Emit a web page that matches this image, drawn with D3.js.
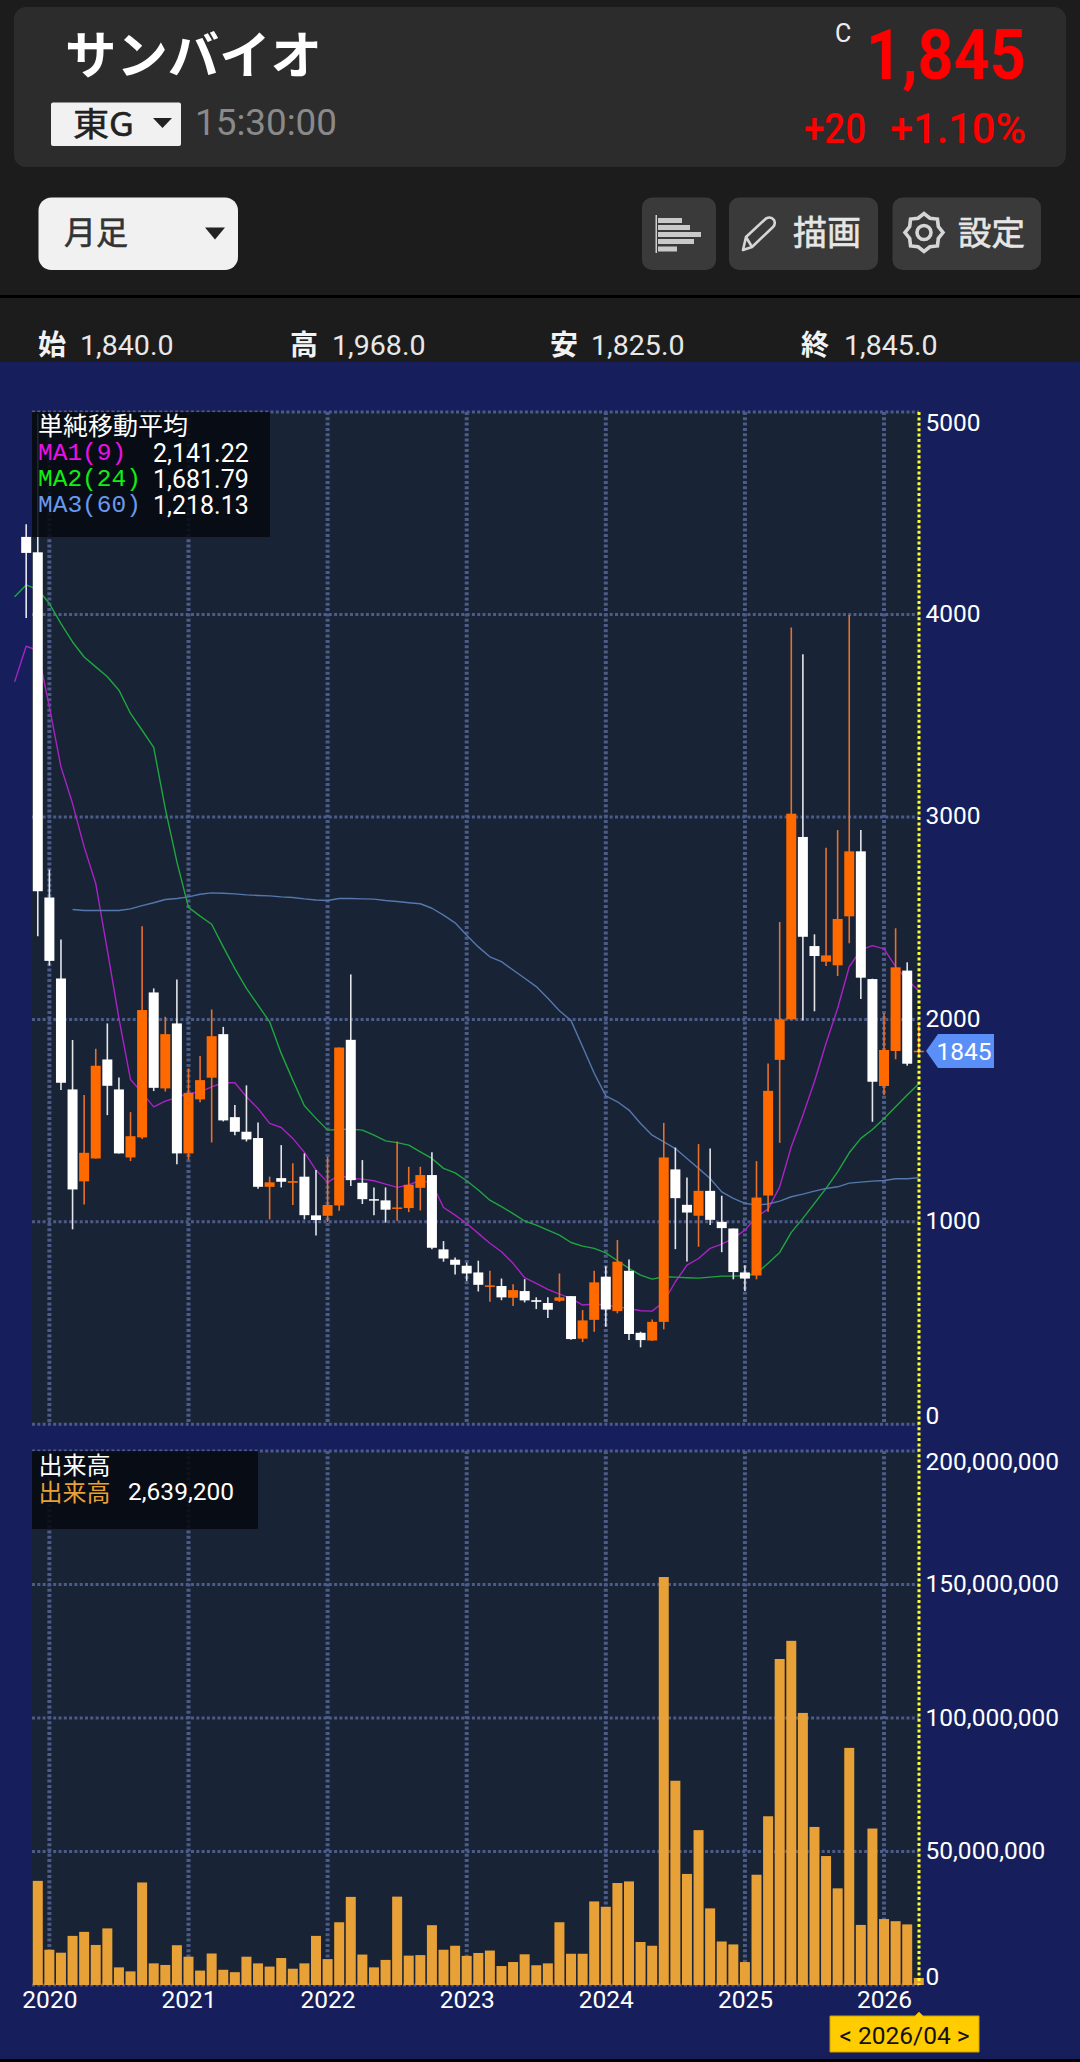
<!DOCTYPE html>
<html><head><meta charset="utf-8">
<script src="https://cdn.jsdelivr.net/npm/d3@7"></script>
<style>html,body{margin:0;padding:0;background:#1c1c1c;overflow:hidden}svg{display:block}
text{font-family:Roboto,"Noto Sans CJK JP",sans-serif}
.jp{font-family:"Noto Sans CJK JP",sans-serif}
.mono{font-family:"Liberation Mono",monospace}</style></head><body><svg id="c" width="1080" height="2062"></svg>
<script>
const stockName="サンバイオ", market="東G", clock="15:30:00", lastPrice="1,845", change="+20", changePct="+1.10%";
const ohlcLabels=["始","高","安","終"], ohlcValues=["1,840.0","1,968.0","1,825.0","1,845.0"];
const yearTicks=["2020","2021","2022","2023","2024","2025","2026"];
const priceTicks=[0,1000,2000,3000,4000,5000];
const volumeTicks=[0,50000000,100000000,150000000,200000000];
const openPrices=[4383,4307,2602,2202,1654,1200,1313,1802,1654,1318,1417,2133,1659,1980,1338,1605,1712,1927,1517,1445,1414,1173,1216,1193,1223,1032,1030,1081,1899,1193,1112,1106,1066,1068,1168,1231,864,813,783,750,681,683,625,658,613,599,610,633,423,516,729,559,758,452,414,506,1259,1084,1030,1153,1000,967,750,735,1130,1800,2000,2901,2362,2285,2267,2509,2830,2199,1671,1844,2241,1840];
const closePrices=[4304,2633,2289,1687,1160,1341,1771,1672,1338,1423,2046,1662,1927,1338,1637,1700,1917,1501,1445,1407,1173,1195,1198,1201,1033,1009,1083,1861,1206,1112,1107,1060,1071,1183,1231,872,819,788,745,689,686,627,663,612,605,566,627,421,513,701,567,803,446,416,506,1318,1117,1046,1153,1010,969,752,720,1120,1647,2000,3016,2408,2313,2316,2496,2830,2206,1692,1849,2257,1781,1845];
const highPrices=[4446,4990,2740,2395,1898,1626,1855,1980,1713,1542,2460,2153,2013,2197,1758,1819,2049,1963,1577,1674,1491,1223,1379,1289,1338,1256,1321,1861,2222,1305,1170,1170,1397,1272,1272,1344,905,824,798,808,758,720,692,717,627,627,745,633,564,758,781,910,814,457,518,1489,1367,1219,1384,1362,1129,967,786,1300,1782,2481,3936,3804,2420,2848,2935,3997,2935,2201,2030,2450,2282,1968];
const lowPrices=[3983,2411,2266,1651,963,1086,1313,1527,1338,1300,1409,1646,1644,1285,1308,1591,1392,1496,1428,1397,1163,1012,1170,1083,1012,933,1000,1055,1177,1088,1033,996,1005,1048,1056,865,803,740,708,656,605,613,584,602,569,525,605,418,406,457,482,548,416,380,411,469,865,804,877,984,850,716,658,716,1050,1390,2000,1994,2040,2264,2214,2376,2101,1494,1627,1803,1771,1825];
const volumes=[null,39.0,13.2,12.1,18.4,19.9,15.0,21.2,6.6,5.1,38.4,8.1,7.5,14.9,10.6,5.4,11.8,5.7,4.8,10.6,8.1,6.9,10.1,6.1,8.1,18.4,9.7,23.5,33.0,11.4,6.6,9.4,33.1,11.0,11.2,22.4,13.2,14.7,10.9,12.0,12.9,7.1,8.6,11.5,7.4,8.1,23.5,11.7,11.7,31.3,29.3,38.2,38.8,16.1,14.7,152.8,76.5,41.6,58.0,28.7,16.3,15.2,8.6,41.3,63.2,122.1,128.9,101.9,59.2,48.3,36.2,88.8,22.5,58.6,24.7,23.9,22.7,2.64].map(v=>v==null?null:v*1e6);
const ma9=[3667,3843,3823,3543,3247,3066,2852,2671,2342,2005,1703,1637,1568,1596,1614,1634,1642,1667,1687,1687,1618,1560,1486,1466,1412,1343,1256,1195,1231,1214,1211,1203,1186,1170,1182,1206,1190,1071,1033,992,943,894,852,795,724,696,666,643,622,589,594,589,580,572,561,559,605,704,786,819,869,890,918,959,1025,1063,1173,1371,1527,1693,1882,2055,2260,2343,2364,2348,2260,2195,2141];
const ma24=[4087,4146,4123,4054,3955,3864,3790,3741,3692,3626,3511,3428,3343,3041,2778,2553,2510,2470,2358,2251,2153,2070,1988,1832,1700,1573,1511,1453,1456,1458,1453,1428,1400,1391,1379,1346,1313,1264,1242,1203,1157,1107,1075,1041,1004,984,959,934,898,880,869,847,808,770,737,717,729,727,724,722,727,732,732,734,745,795,849,948,1017,1091,1165,1247,1341,1412,1456,1511,1568,1626,1682];
const ma60=[null,null,null,null,null,2543,2538,2538,2538,2538,2546,2562,2576,2592,2597,2605,2618,2625,2623,2620,2615,2612,2610,2605,2602,2595,2590,2587,2597,2597,2595,2594,2587,2582,2576,2571,2549,2515,2477,2416,2358,2309,2285,2244,2203,2162,2104,2043,1994,1865,1734,1622,1593,1552,1486,1428,1395,1362,1313,1264,1214,1148,1116,1091,1083,1088,1102,1124,1137,1152,1165,1173,1191,1196,1201,1204,1213,1213,1218];
const maLabels=["MA1(9)","MA2(24)","MA3(60)"], maValues=["2,141.22","1,681.79","1,218.13"];

const months=[];
for(let y=2019,m=10;months.length<79;){months.push(y+"-"+String(m).padStart(2,"0"));if(++m>12){m=1;y++;}}
const candleMonths=months.slice(1);

const svg=d3.select("#c");
const x=d3.scalePoint().domain(months).range([14.6,918.8]);
const yP=d3.scaleLinear().domain([0,5000]).range([1424.3,412]);
const yV=d3.scaleLinear().domain([0,200000000]).range([1985,1451]);
const L=32,R=919;
const rect=(p,a,b,w,h,f,r)=>p.append("rect").attr("x",a).attr("y",b).attr("width",w).attr("height",h).attr("fill",f).attr("rx",r||0);
const text=(p,s,a,b,size,f,o={})=>{const t=p.append("text").attr("x",a).attr("y",b).attr("font-size",size).attr("fill",f).attr("dominant-baseline","central").text(s);
 if(o.cls)t.attr("class",o.cls);if(o.w)t.attr("font-weight",o.w);if(o.anchor)t.attr("text-anchor",o.anchor);if(o.len)t.attr("textLength",o.len).attr("lengthAdjust","spacingAndGlyphs");
 if(o.thick)t.attr("stroke",f).attr("stroke-width",o.thick);return t;};

// page + header
rect(svg,0,0,1080,2062,"#1c1c1c");
rect(svg,14,7,1052,160,"#2c2c2c",12);
text(svg,stockName,65,52,51,"#fff",{cls:"jp",w:700,len:257});
rect(svg,51,102.5,130,43.5,"#f1f1f1",2);
text(svg,market,73,122,33,"#222",{cls:"jp",len:61,thick:0.5});
svg.append("path").attr("d","M153 118H172L162.5 128Z").attr("fill","#222");
text(svg,clock,195,123,36,"#8a8a8a",{len:142});
text(svg,"C",835,33,25,"#eee");
text(svg,lastPrice,1026,55,70,"#f00",{w:700,anchor:"end",len:160});
text(svg,change,804,128,42,"#f00",{w:500,len:62});
text(svg,changePct,890,128,42,"#f00",{w:500,len:136});

// toolbar
rect(svg,38.5,197.5,199.5,72.5,"#f1f1f1",13);
text(svg,"月足",64,230,32,"#333",{cls:"jp",thick:0.6});
svg.append("path").attr("d","M205 227.5H225L215 239.5Z").attr("fill","#222");
rect(svg,642,197.5,74,72.5,"#3a3a3a",10);
rect(svg,729,197.5,149,72.5,"#3a3a3a",10);
rect(svg,892.5,197.5,148.5,72.5,"#3a3a3a",10);
rect(svg,655.5,215,1.5,38,"#cfcfcf");
[[218,24],[225,32],[232,43],[239,36],[246.5,19]].forEach(d=>rect(svg,658,d[0],d[1],5,"#c9c9c9"));
svg.append("path").attr("d","M743 250L746 237L766 218.5Q771 216 774 220Q776 224 773 227L752 247Z M746 237L752 247").attr("fill","none").attr("stroke","#d6d6d6").attr("stroke-width",2.6).attr("stroke-linejoin","round");
text(svg,"描画",793,230,34,"#e6e6e6",{cls:"jp",thick:0.6});
const gearPts=d3.range(16).map(k=>{const a=k*Math.PI/8,r=k%2?15.5:19;return [924+r*Math.cos(a),232.5+r*Math.sin(a)];});
svg.append("path").attr("d",d3.line().curve(d3.curveLinearClosed)(gearPts)).attr("fill","none").attr("stroke","#d6d6d6").attr("stroke-width",3.6);
svg.append("circle").attr("cx",924).attr("cy",232.5).attr("r",7).attr("fill","none").attr("stroke","#d6d6d6").attr("stroke-width",3.6);
text(svg,"設定",958,230,33.5,"#e6e6e6",{cls:"jp",thick:0.6});
rect(svg,0,295,1080,3,"#000");

// OHLC row
[[38,80],[290,332],[550,591],[801,844]].forEach((p,i)=>{
  text(svg,ohlcLabels[i],p[0],343,28,"#f2f2f2",{cls:"jp",w:700});
  text(svg,ohlcValues[i],p[1],345,28,"#e8e8e8",{len:93.5});
});

// chart band
rect(svg,0,362,1080,1697,"#161f5c");
rect(svg,0,2059,1080,3,"#000");
rect(svg,L,412,R-L,1012.3,"#182335");
rect(svg,L,1451,R-L,534,"#182335");

// grids
const grid=svg.append("g").attr("fill","none").attr("stroke","#4c5b87");
yearTicks.forEach(t=>{const px=x(t+"-01");
  [[412,1424.3],[1451,1985]].forEach(s=>grid.append("line").attr("x1",px).attr("x2",px).attr("y1",s[0]).attr("y2",s[1]).attr("stroke-width",4).attr("stroke-dasharray","3 2.3"));});
priceTicks.forEach(v=>grid.append("line").attr("x1",L).attr("x2",R).attr("y1",yP(v)).attr("y2",yP(v)).attr("stroke-width",3).attr("stroke-dasharray","3 2.3"));
volumeTicks.forEach(v=>grid.append("line").attr("x1",L).attr("x2",R).attr("y1",yV(v)).attr("y2",yV(v)).attr("stroke-width",3).attr("stroke-dasharray","3 2.3"));

// moving averages
const line=d3.line().defined(d=>d!=null).x((d,i)=>x(months[i])).y(d=>yP(d));
[[ma9,"#a922c4"],[ma24,"#1fa63f"],[ma60,"#5577ad"]].forEach(m=>svg.append("path").attr("d",line(m[0])).attr("fill","none").attr("stroke",m[1]).attr("stroke-width",1.4).attr("stroke-linejoin","round"));

// candles
const UP="#ff6a00",DOWN="#ffffff",candleW=10;
const cd=candleMonths.map((m,i)=>({m,o:openPrices[i],c:closePrices[i],h:highPrices[i],l:lowPrices[i]}));
const cg=svg.append("g").selectAll("g").data(cd).join("g");
cg.append("line").attr("x1",d=>x(d.m)).attr("x2",d=>x(d.m)).attr("y1",d=>yP(d.h)).attr("y2",d=>yP(d.l))
  .attr("stroke",d=>d.c>d.o?"#e8702a":"#e4e6ea").attr("stroke-width",1.6);
cg.append("rect").attr("x",d=>x(d.m)-candleW/2).attr("width",candleW)
  .attr("y",d=>yP(Math.max(d.o,d.c))).attr("height",d=>Math.max(1.5,Math.abs(yP(d.o)-yP(d.c))))
  .attr("fill",d=>d.c>d.o?UP:DOWN);

// volume bars
svg.append("g").selectAll("rect").data(candleMonths.map((m,i)=>({m,v:volumes[i]})).filter(d=>d.v!=null)).join("rect")
  .attr("x",d=>x(d.m)-candleW/2).attr("width",candleW).attr("y",d=>yV(d.v)).attr("height",d=>yV(0)-yV(d.v)).attr("fill","#e8a137");

// last-month vertical marker
svg.append("line").attr("x1",R).attr("x2",R).attr("y1",412).attr("y2",1985).attr("stroke","#ffff2a").attr("stroke-width",3).attr("stroke-dasharray","3 2.4");

// legends
rect(svg,L,412,238,125,"rgba(6,9,16,0.88)");
text(svg,"単純移動平均",38,424,25,"#fff",{cls:"jp"});
["#e812e8","#12ee12","#6a98ee"].forEach((c,i)=>{const cy=453+26.2*i;
  text(svg,maLabels[i],38,cy,24.5,c,{cls:"mono",len:maLabels[i].length*14.7});
  text(svg,maValues[i],153,cy,25,"#fff");});
rect(svg,L,1451,226,78,"rgba(6,9,16,0.88)");
text(svg,"出来高",38.5,1463,24,"#fff",{cls:"jp"});
text(svg,"出来高",38.5,1490,24,"#e8a137",{cls:"jp"});
text(svg,"2,639,200",128,1491.5,24.5,"#fff");

// axes
const styleAxis=(g,off)=>{g.select(".domain").remove();g.selectAll("line").remove();
  g.selectAll("text").attr("fill","#fff").attr("font-size",24.5).attr("font-family","Roboto").attr("dy",null).attr("dominant-baseline","central").attr("x",6.5).attr("text-anchor","start").attr("y",off);};
const gp=svg.append("g").attr("transform",`translate(${R},0)`).call(d3.axisRight(yP).tickValues(priceTicks).tickFormat(d3.format("d")));
styleAxis(gp,d=>d===5000?10:d===0?-9:-1.5);
const gv=svg.append("g").attr("transform",`translate(${R},0)`).call(d3.axisRight(yV).tickValues(volumeTicks).tickFormat(d3.format(",")));
styleAxis(gv,d=>d===200000000?10:d===0?-9:-1.5);
const gx=svg.append("g").attr("transform","translate(0,1985)").call(d3.axisBottom(x).tickValues(yearTicks.map(t=>t+"-01")).tickFormat(d=>d.slice(0,4)));
gx.select(".domain").remove();gx.selectAll("line").remove();
gx.selectAll("text").attr("fill","#fff").attr("font-size",24.5).attr("font-family","Roboto").attr("y",14).attr("dy",null).attr("dominant-baseline","central");

// last price tag
svg.append("path").attr("d","M926 1051L938 1034H994V1068H938Z").attr("fill","#5a8ff7");
text(svg,"1845",964,1051.5,24.5,"#fff",{anchor:"middle"});
// date badge
svg.append("path").attr("d","M830 2016H915L919 2012L923 2016H979V2052H830Z").attr("fill","#ffcc00").attr("stroke","#c9a200").attr("stroke-width",1);
text(svg,"< 2026/04 >",904.5,2035,24.5,"#111",{anchor:"middle"});
</script></body></html>
